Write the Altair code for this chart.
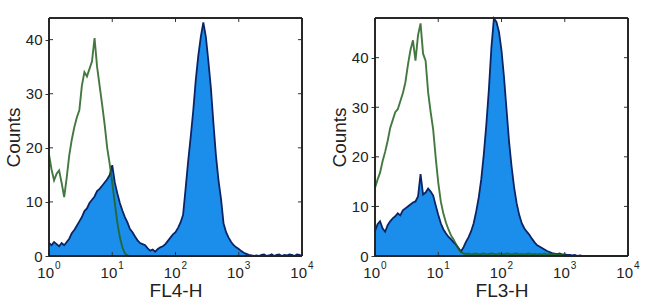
import altair as alt
import pandas as pd

# bin positions in decades (log10 of channel value)
x_log = [0.00, 0.04, 0.08, 0.12, 0.16, 0.20, 0.24, 0.28, 0.32, 0.36,
         0.40, 0.44, 0.48, 0.52, 0.56, 0.60, 0.64, 0.68, 0.72, 0.76,
         0.80, 0.84, 0.88, 0.92, 0.96, 1.00, 1.04, 1.08, 1.12, 1.16,
         1.20, 1.24, 1.28, 1.32, 1.36, 1.40, 1.44, 1.48, 1.52, 1.56,
         1.60, 1.64, 1.68, 1.72, 1.76, 1.80, 1.84, 1.88, 1.92, 1.96,
         2.00, 2.04, 2.08, 2.12, 2.16, 2.20, 2.24, 2.28, 2.32, 2.36,
         2.40, 2.44, 2.48, 2.52, 2.56, 2.60, 2.64, 2.68, 2.72, 2.76,
         2.80, 2.84, 2.88, 2.92, 2.96, 3.00, 3.04, 3.08, 3.12, 3.16,
         3.20, 3.24, 3.28, 3.32, 3.36, 3.40, 3.44, 3.48, 3.52, 3.56,
         3.60, 3.64, 3.68, 3.72, 3.76, 3.80, 3.84, 3.88, 3.92, 3.96, 4.00]

# FL4-H panel
fl4_stained = [2.4, 2.0, 2.6, 2.2, 1.8, 2.4, 2.0, 2.6, 3.2, 4.2,
               4.8, 5.6, 6.4, 7.2, 8.3, 8.8, 9.8, 10.4, 11.0, 12.0,
               12.4, 13.0, 13.6, 14.2, 15.0, 16.8, 13.6, 11.6, 9.8, 8.4,
               7.2, 6.2, 5.0, 4.4, 3.6, 2.9, 2.4, 2.2, 2.0, 1.4,
               1.0, 1.2, 0.8, 1.3, 1.6, 1.8, 2.2, 2.8, 3.4, 4.0,
               4.4, 5.2, 6.2, 7.6, 12.5, 17.5, 22.0, 26.8, 32.5, 37.0,
               40.5, 43.2, 40.5, 36.0, 31.0, 24.5, 18.5, 14.0, 10.5, 6.0,
               4.4, 3.4, 2.6, 2.0, 1.6, 1.3, 0.9, 0.6, 0.4, 0.2,
               0.1, 0.0, 0.1, 0.0, 0.2, 0.3, 0.0, 0.1, 0.3, 0.0,
               0.2, 0.3, 0.0, 0.2, 0.1, 0.3, 0.2, 0.0, 0.3, 0.2, 0.0]
fl4_control = [18.8, 16.0, 14.0, 15.2, 15.8, 13.5, 10.9, 14.5, 18.6, 21.5,
               23.8, 25.6, 27.0, 31.5, 34.0, 33.2, 34.6, 36.0, 40.3, 35.0,
               31.5, 28.0, 24.3, 20.0, 17.0, 13.5, 9.8, 6.2, 3.5, 1.6,
               0.5, 0.1, 0.0, 0.0, 0.0, 0.0, 0.0, 0.0, 0.0, 0.0,
               0.0, 0.0, 0.0, 0.0, 0.0, 0.0, 0.0, 0.0, 0.0, 0.0,
               0.0, 0.0, 0.0, 0.0, 0.0, 0.0, 0.0, 0.0, 0.0, 0.0,
               0.0, 0.0, 0.0, 0.0, 0.0, 0.0, 0.0, 0.0, 0.0, 0.0,
               0.0, 0.0, 0.0, 0.0, 0.0, 0.0, 0.0, 0.0, 0.0, 0.0,
               0.0, 0.0, 0.0, 0.0, 0.0, 0.0, 0.0, 0.0, 0.0, 0.0,
               0.0, 0.0, 0.0, 0.0, 0.0, 0.0, 0.0, 0.0, 0.0, 0.0, 0.0]

# FL3-H panel
fl3_stained = [5.0, 6.4, 7.0, 5.6, 4.9, 6.2, 7.0, 7.6, 8.0, 8.6,
               8.2, 9.2, 9.6, 10.0, 10.4, 10.8, 11.0, 12.0, 16.5, 12.4,
               12.8, 13.6, 13.0, 12.2, 10.2, 8.3, 6.6, 5.4, 4.6, 3.9,
               3.4, 2.8, 2.3, 1.6, 0.9, 1.8, 2.9, 3.8, 5.0, 6.6,
               9.0, 11.8, 15.5, 20.5, 26.5, 33.5, 42.0, 47.9, 47.2, 45.2,
               41.5, 36.0, 29.5, 23.0, 18.0, 13.8, 10.6, 8.3, 6.6, 5.6,
               4.9, 4.3, 3.5, 2.8, 2.2, 1.9, 1.6, 1.3, 1.0, 0.8,
               0.6, 0.5, 0.4, 0.5, 0.3, 0.3, 0.2, 0.2, 0.1, 0.2,
               0.0, 0.1, 0.0, 0.0, 0.0, 0.0, 0.0, 0.0, 0.0, 0.0,
               0.0, 0.0, 0.0, 0.0, 0.0, 0.0, 0.0, 0.0, 0.0, 0.0, 0.0]
fl3_control = [13.7, 15.4, 16.8, 19.1, 21.0, 23.2, 25.8, 27.4, 29.0, 29.6,
               31.2, 32.8, 35.0, 38.5, 41.5, 43.5, 39.4, 44.5, 46.9, 40.8,
               39.4, 33.0, 29.0, 25.5, 19.8, 14.8, 11.0, 8.6, 6.8, 5.4,
               4.2, 3.4, 2.4, 1.4, 0.8, 0.5, 0.4, 0.5, 0.3, 0.4,
               0.5, 0.3, 0.4, 0.5, 0.3, 0.4, 0.5, 0.4, 0.3, 0.5,
               0.4, 0.3, 0.5, 0.4, 0.3, 0.4, 0.5, 0.3, 0.4, 0.3,
               0.4, 0.5, 0.3, 0.4, 0.3, 0.4, 0.3, 0.5, 0.3, 0.4,
               0.3, 0.4, 0.3, 0.3, 0.2, 0.0, 0.0, 0.0, 0.0, 0.0,
               0.0, 0.0, 0.0, 0.0, 0.0, 0.0, 0.0, 0.0, 0.0, 0.0,
               0.0, 0.0, 0.0, 0.0, 0.0, 0.0, 0.0, 0.0, 0.0, 0.0, 0.0]

x_ticks = [0, 1, 2, 3, 4]
x_tick_base = ["10", "10", "10", "10", "10"]
x_tick_exp = ["0", "1", "2", "3", "4"]
y_ticks = [0, 10, 20, 30, 40]
x_titles = ["FL4-H", "FL3-H"]
y_title = "Counts"
y_max = [44, 48]

W, H = 253, 238
FONT = "Liberation Sans"
BLUE = "#1b8eec"
NAVY = "#0c2466"
GREEN = "#22621f"
TXT = "#222222"


def panel(stained, control, xtitle, ymax):
    df = pd.DataFrame({"x": x_log, "stained": stained, "control": control})
    xs = alt.Scale(domain=[0, 4], nice=False, zero=False)
    ys = alt.Scale(domain=[0, ymax], nice=False)
    xax = alt.Axis(values=x_ticks, labels=False, ticks=False, domain=False,
                   grid=False, title=xtitle, titleFont=FONT, titleFontSize=19,
                   titleFontWeight="normal", titleColor=TXT, titlePadding=25)
    yax = alt.Axis(values=y_ticks, ticks=True, tickSize=4, tickColor="#333333",
                   domain=False, grid=False, labelFont=FONT, labelFontSize=15,
                   labelColor=TXT, labelPadding=3, title=y_title, titleFont=FONT,
                   titleFontSize=19, titleFontWeight="normal", titleColor=TXT,
                   titlePadding=2, labelFlush=False, labelOverlap=False)
    base = alt.Chart(df)
    area = base.mark_area(interpolate="linear", color=BLUE, opacity=1).encode(
        x=alt.X("x:Q", scale=xs, axis=xax),
        y=alt.Y("stained:Q", scale=ys, axis=yax),
    )
    outline = base.mark_line(interpolate="linear", color=NAVY, strokeWidth=1.8).encode(
        x=alt.X("x:Q", scale=xs), y=alt.Y("stained:Q", scale=ys)
    )
    green = base.mark_line(interpolate="linear", color=GREEN, strokeWidth=1.9, opacity=0.85).encode(
        x=alt.X("x:Q", scale=xs), y=alt.Y("control:Q", scale=ys)
    )
    xt = alt.Chart(pd.DataFrame({"t": x_ticks, "b": x_tick_base, "e": x_tick_exp}))
    yt = alt.Chart(pd.DataFrame({"t": y_ticks}))
    tick_style = dict(color="#333333", strokeWidth=1)
    xb = xt.mark_rule(**tick_style).encode(x=alt.X("t:Q", scale=xs), y=alt.value(H), y2=alt.value(H - 4))
    xtop = xt.mark_rule(**tick_style).encode(x=alt.X("t:Q", scale=xs), y=alt.value(0), y2=alt.value(4))
    yl = yt.mark_rule(**tick_style).encode(y=alt.Y("t:Q", scale=ys), x=alt.value(0), x2=alt.value(4))
    yr = yt.mark_rule(**tick_style).encode(y=alt.Y("t:Q", scale=ys), x=alt.value(W), x2=alt.value(W - 4))
    lab_b = xt.mark_text(font=FONT, fontSize=15, color=TXT, align="right", baseline="alphabetic",
                         dx=5).encode(x=alt.X("t:Q", scale=xs), y=alt.value(H + 22), text="b:N")
    lab_e = xt.mark_text(font=FONT, fontSize=10, color=TXT, align="left", baseline="alphabetic",
                         dx=6).encode(x=alt.X("t:Q", scale=xs), y=alt.value(H + 13), text="e:N")
    frame = xt.mark_rect(fillOpacity=0, stroke="#222222", strokeWidth=1).encode(
        x=alt.value(0), x2=alt.value(W), y=alt.value(0), y2=alt.value(H)
    )
    return alt.layer(area, outline, green, xb, xtop, yl, yr, lab_b, lab_e, frame).properties(width=W, height=H)


left = panel(fl4_stained, fl4_control, x_titles[0], y_max[0])
right = panel(fl3_stained, fl3_control, x_titles[1], y_max[1])

chart = alt.hconcat(left, right, spacing=16).properties(
    padding={"left": 4, "top": 14, "right": 0, "bottom": 0},
    background="white",
).configure_view(stroke=None)

chart.save("out.html", embed_options={"renderer": "svg", "actions": False})
